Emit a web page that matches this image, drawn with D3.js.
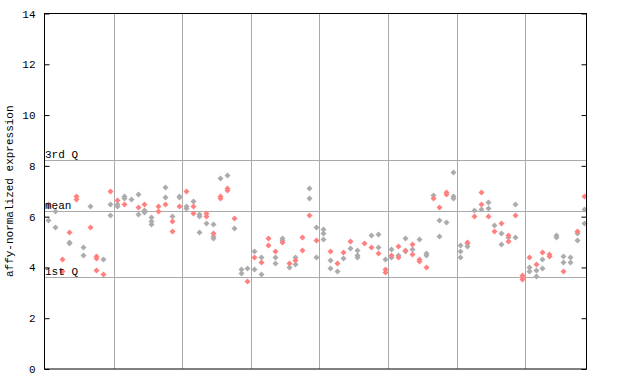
<!DOCTYPE html>
<html><head><meta charset="utf-8">
<script src="https://cdn.jsdelivr.net/npm/d3@7"></script>
<style>body{margin:0;background:#fff}text{font-family:"Liberation Mono","DejaVu Sans Mono",monospace}</style>
</head><body><svg id="c" width="640" height="384"></svg>
<script>
// values per sample column, high to low
const redValues = [
[6.50],[],[4.33,3.86],[5.39],[6.81,6.71],[],[5.59],[4.46,4.38,3.89],[3.73],[7.01],
[6.66],[6.49],[],[6.38],[6.49],[],[6.43,6.22],[6.49],[5.84,5.43],[6.43],
[7.00],[6.41,6.13],[],[6.16,6.04],[5.36],[6.83,6.72],[7.12,7.04],[5.96],[],[3.48],
[4.40],[4.20],[5.17,4.87],[4.64],[4.99],[4.16],[4.29],[5.21,4.69],[6.05],[5.07],
[],[4.64],[4.17],[4.61],[5.05],[],[4.97],[4.82],[4.56],[3.93,3.81],
[4.50],[4.84,4.40],[4.70],[4.92,4.53],[4.33,4.25],[4.01],[6.73],[6.37],[6.96,6.88],[],
[],[5.01],[6.01],[6.96,6.49],[6.01],[5.45],[5.74],[5.27,5.04],[6.05],[3.71,3.63,3.54],
[4.40],[4.14],[4.60],[4.53,4.45],[],[3.85],[],[5.45],[6.80]
];
const grayValues = [
[6.42,5.87],[6.22,5.59],[],[5.01,4.95],[],[4.80,4.49],[6.42],[],[4.32],[6.49,6.08],
[6.49,6.41],[6.81,6.72],[6.70],[6.89,6.09],[6.25,6.17],[5.97,5.84,5.71],[],[7.16,6.76],[6.03],[6.83,6.76],
[6.43,6.34],[6.60],[6.10,6.03,5.38],[5.74],[5.70,5.25,5.17],[7.51],[7.63],[5.54],[3.95,3.78],[3.97],
[4.64,3.94],[4.40,3.73],[],[4.42,4.16],[5.17,5.08],[4.03],[4.41,4.12],[],[7.12,6.72],[5.59,4.40],
[5.50,5.34,5.13],[4.28,3.97],[3.85],[4.36],[4.75],[4.67,4.50,4.42],[],[5.28],[5.32,4.79],[4.32],
[4.71,4.42],[4.49],[5.15,4.64],[4.71],[5.11],[4.56,4.49],[6.84],[5.86,5.23],[5.78],[7.75,6.80,6.72],
[4.88,4.64,4.40],[4.95,4.83],[6.25],[6.30],[6.56,6.33],[5.66],[5.34,4.91],[5.19],[6.49,5.20],[],
[4.01,3.85],[3.90,3.65],[4.32,3.97],[],[5.27,5.19],[4.44,4.23],[4.41,4.23],[5.34,5.07],[6.29,5.74]
];
const yTicks = [0,2,4,6,8,10,12,14];
const groupSize = 10;
const refLines = [{label:"3rd Q", v:8.22},{label:"mean", v:6.22},{label:"1st Q", v:3.61}];
const yTitle = "affy-normalized expression";

const svg = d3.select("#c");
const L=44, R=587, T=13.5, B=369;
const nCols = redValues.length;
const x = d3.scaleBand().domain(d3.range(nCols)).range([L+1,R]);
const y = d3.scaleLinear().domain([0,14]).range([B,T]);

// vertical group lines
const gx = d3.range(groupSize, nCols, groupSize).map(i => Math.round(x(i)) + 0.5);
svg.append("g").selectAll("line").data(gx).join("line")
  .attr("x1",d=>d).attr("x2",d=>d).attr("y1",T).attr("y2",B)
  .attr("stroke","#aaaaaa").attr("stroke-width",1);
// reference lines
svg.append("g").selectAll("line").data(refLines).join("line")
  .attr("x1",L).attr("x2",R)
  .attr("y1",d=>Math.round(y(d.v))+0.5).attr("y2",d=>Math.round(y(d.v))+0.5)
  .attr("stroke","#aaaaaa").attr("stroke-width",1);

// points
const pts = [];
grayValues.forEach((vs,i)=>vs.forEach(v=>pts.push({i,v,c:"#acacac"})));
redValues.forEach((vs,i)=>vs.forEach(v=>pts.push({i,v,c:"#ff8080"})));
const diamond = "M0,-3L3,0L0,3L-3,0Z";
svg.append("g").selectAll("path").data(pts).join("path")
  .attr("d",diamond)
  .attr("transform",d=>`translate(${Math.round(x(d.i)+x.bandwidth()/2)+0.5},${Math.round(y(d.v))+0.5})`)
  .attr("fill",d=>d.c).attr("stroke","none");

// reference labels
svg.append("g").selectAll("text").data(refLines).join("text")
  .attr("x",L+1).attr("y",d=>y(d.v)-2)
  .attr("font-size",11).attr("fill","#000").text(d=>d.label);

// frame
svg.append("rect").attr("x",L+0.5).attr("y",T).attr("width",R-L-1).attr("height",B-T)
  .attr("fill","none").attr("stroke","#000").attr("stroke-width",1);

// axes
const la = svg.append("g").attr("transform",`translate(${L+0.5},0)`)
  .call(d3.axisLeft(y).tickValues(yTicks).tickSize(-5).tickPadding(9).tickFormat(d3.format("d")));
la.select(".domain").remove();
la.selectAll("text").attr("font-family","Liberation Mono").attr("font-size",11);
la.selectAll("line").attr("stroke","#000");
const ra = svg.append("g").attr("transform",`translate(${R-0.5},0)`)
  .call(d3.axisRight(y).tickValues(yTicks).tickSize(-5).tickFormat(""));
ra.select(".domain").remove();
ra.selectAll("line").attr("stroke","#000");

svg.append("text").attr("transform",`translate(13,${(T+B)/2}) rotate(-90)`)
  .attr("text-anchor","middle").attr("font-size",11).text(yTitle);
</script></body></html>
